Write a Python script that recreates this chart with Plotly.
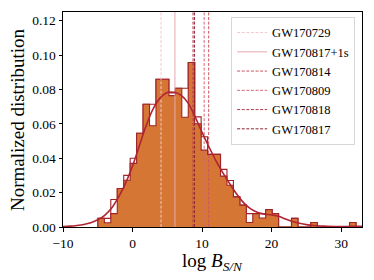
import plotly.graph_objects as go

# ---------------- data ----------------
bin_start = -4.98
bin_width = 0.928

fill_heights = [0.0050, 0.0025, 0.0078, 0.0224, 0.0272, 0.0370, 0.0545, 0.0714, 0.0589, 0.0859,
                0.0859, 0.0764, 0.0807, 0.0638, 0.0956, 0.0600, 0.0447, 0.0422, 0.0422, 0.0296,
                0.0243, 0.0175, 0.0127, 0.0026, 0.0078, 0.0052, 0.0101, 0.0078, 0.0, 0.0,
                0.0050, 0.0, 0.0, 0.0026, 0.0, 0.0, 0.0, 0.0, 0.0, 0.0026]

outline_heights = [0.0050, 0.0050, 0.0160, 0.0224, 0.0300, 0.0400, 0.0545, 0.0714, 0.0714, 0.0859,
                   0.0859, 0.0780, 0.0807, 0.0807, 0.0956, 0.0640, 0.0525, 0.0422, 0.0422, 0.0335,
                   0.0270, 0.0175, 0.0127, 0.0078, 0.0078, 0.0078, 0.0101, 0.0078, 0.0, 0.0,
                   0.0050, 0.0, 0.0, 0.0026, 0.0, 0.0, 0.0, 0.0, 0.0, 0.0026]

kde_x = [-10, -9, -8, -7, -6, -5, -4, -3, -2, -1, 0, 1, 2, 3, 4, 5, 6, 7, 8, 9, 10, 11, 12, 13,
         14, 15, 16, 17, 18, 19, 20, 21, 22, 23, 24, 25, 26, 27, 28, 29, 30, 31, 32, 33]
kde_y = [0.0003, 0.0005, 0.0009, 0.0015, 0.0025, 0.0042, 0.0068, 0.0110, 0.0175, 0.0255, 0.0355,
         0.0475, 0.0595, 0.0690, 0.0752, 0.0782, 0.0783, 0.0765, 0.0720, 0.0640, 0.0550, 0.0465,
         0.0385, 0.0315, 0.0250, 0.0190, 0.0140, 0.0105, 0.0085, 0.0075, 0.0070, 0.0062, 0.0046,
         0.0032, 0.0022, 0.0014, 0.0009, 0.0006, 0.0004, 0.0003, 0.0003, 0.0003, 0.0004, 0.0004]

event_names = ["GW170729", "GW170817+1s", "GW170814", "GW170809", "GW170818", "GW170817"]
event_values = [4.1, 6.1, 10.95, 10.3, 8.7, 8.9]
event_colors = ["rgb(242,200,206)", "rgb(232,168,176)", "rgb(205,85,98)",
                "rgb(214,104,118)", "rgb(180,58,78)", "rgb(140,35,50)"]
event_dash = ["3px,1.6px", "solid", "3px,1.6px", "3px,1.6px", "3px,1.6px", "3px,1.6px"]

x_ticks = [-10, 0, 10, 20, 30]
y_ticks = [0.00, 0.02, 0.04, 0.06, 0.08, 0.10, 0.12]

x_range = [-10, 33]
y_range = [0, 0.125]

x_title = "log <i>B</i><sub><i>S/N</i></sub>"
y_title = "Normalized distribution"

# ---------------- figure ----------------
FONT = "Liberation Serif, Times New Roman, serif"
ORANGE = "rgb(214,118,52)"
EDGE = "rgb(160,35,40)"
KDE = "rgb(176,36,50)"

n = len(fill_heights)
edges = [bin_start + bin_width * i for i in range(n + 1)]


def step_xy(h):
    xs = [edges[0]] + edges[:n] + [edges[n]]
    ys = [0.0] + list(h) + [0.0]
    return xs, ys


fig = go.Figure()

ox, oy = step_xy(outline_heights)
fig.add_trace(go.Scatter(x=ox, y=oy, mode="lines", line=dict(shape="hv", color=EDGE, width=1.1),
                         fill="tozeroy", fillcolor="white", showlegend=False, hoverinfo="skip"))
fx, fy = step_xy(fill_heights)
fig.add_trace(go.Scatter(x=fx, y=fy, mode="lines", line=dict(shape="hv", color=EDGE, width=1.1),
                         fill="tozeroy", fillcolor=ORANGE, showlegend=False, hoverinfo="skip"))

for name, v, c, d in zip(event_names, event_values, event_colors, event_dash):
    fig.add_trace(go.Scatter(x=[v, v], y=[y_range[0], y_range[1]], mode="lines",
                             line=dict(color=c, width=1, dash=d), name=name))

fig.add_trace(go.Scatter(x=kde_x, y=kde_y, mode="lines",
                         line=dict(color=KDE, width=1.6, shape="spline", smoothing=0.8),
                         showlegend=False, hoverinfo="skip"))

# page body has an 8px margin: plot area lands at x 63..362, y 12..227 of the window
fig.update_layout(
    width=374, height=280,
    margin=dict(l=55, r=20, t=4, b=61, autoexpand=False),
    paper_bgcolor="white", plot_bgcolor="white",
    font=dict(family=FONT, size=13, color="black"),
    showlegend=True,
    legend=dict(x=0.977, y=0.977, xanchor="right", yanchor="top",
                bgcolor="rgba(255,255,255,0.85)", bordercolor="rgb(215,215,215)", borderwidth=1,
                font=dict(family=FONT, size=12.5, color="black"),
                itemwidth=30, tracegroupgap=0),
    annotations=[
        dict(text=x_title, xref="paper", yref="paper", x=0.5, y=-0.165, xanchor="center",
             yanchor="middle", showarrow=False, font=dict(family=FONT, size=19)),
        dict(text=y_title, xref="paper", yref="paper", x=-0.152, y=0.5, xanchor="center",
             yanchor="middle", showarrow=False, textangle=-90, font=dict(family=FONT, size=19)),
    ],
)

fig.update_xaxes(range=x_range, tickvals=x_ticks, ticks="outside", ticklen=3.5, tickwidth=0.8,
                 tickcolor="black", showline=True, linecolor="black", linewidth=1, mirror=True,
                 showgrid=False, zeroline=False, tickfont=dict(size=13.5), automargin=False)
fig.update_yaxes(range=y_range, tickvals=y_ticks, tickformat=".2f", ticks="outside", ticklen=3.5,
                 tickwidth=0.8, tickcolor="black", showline=True, linecolor="black", linewidth=1,
                 mirror=True, showgrid=False, zeroline=False, tickfont=dict(size=13.5),
                 automargin=False)

fig.write_html("out.html")
